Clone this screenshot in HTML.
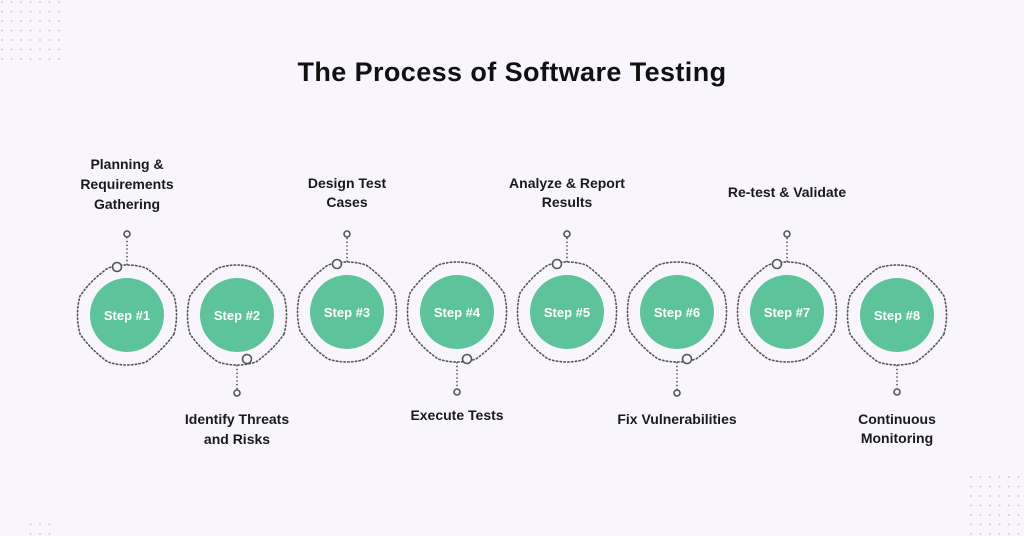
<!DOCTYPE html>
<html><head><meta charset="utf-8"><style>
body{margin:0;width:1024px;height:536px;background:#f8f6fc;overflow:hidden;font-family:"Liberation Sans",sans-serif}
svg{position:absolute;left:0;top:0}
</style></head><body>
<svg width="1024" height="536" viewBox="0 0 1024 536">
<defs>
<pattern id="dots" width="9.5" height="9.5" patternUnits="userSpaceOnUse"><circle cx="2" cy="2" r="1" fill="#cfcbd8"/></pattern>
<path id="ring" d="M47,19 Q36,35 19,47 Q0,53 -19,47 Q-36,35 -47,19 Q-52,0 -47,-19 Q-36,-35 -19,-47 Q0,-53 19,-47 Q36,-35 47,-19 Q52,0 47,19Z" fill="none" stroke="#555" stroke-width="1.6" stroke-dasharray="1.4 2.4" stroke-linecap="round"/>
</defs>
<rect x="0" y="0" width="60" height="60" fill="url(#dots)"/>
<rect x="965" y="470" width="59" height="66" fill="url(#dots)"/>
<rect x="28" y="516" width="30" height="20" fill="url(#dots)"/>
<text x="512" y="81" text-anchor="middle" font-size="27" font-weight="bold" letter-spacing="0.4" fill="#111">The Process of Software Testing</text>
<g font-size="14" font-weight="bold" fill="#1a1a1a" text-anchor="middle">
<text x="127" y="169">Planning &amp;</text><text x="127" y="189">Requirements</text><text x="127" y="209">Gathering</text>
<text x="347" y="188">Design Test</text><text x="347" y="207">Cases</text>
<text x="567" y="188">Analyze &amp; Report</text><text x="567" y="207">Results</text>
<text x="787" y="197">Re-test &amp; Validate</text>
<text x="237" y="424">Identify Threats</text><text x="237" y="444">and Risks</text>
<text x="457" y="420">Execute Tests</text>
<text x="677" y="424">Fix Vulnerabilities</text>
<text x="897" y="424">Continuous</text><text x="897" y="443">Monitoring</text>
</g>
<g stroke="#555" stroke-width="1.6" fill="none">
<g transform="translate(127,315)"><use href="#ring"/><line x1="0" y1="-50" x2="0" y2="-78" stroke-dasharray="1.4 2.4"/><circle cx="0" cy="-81" r="3" fill="#f8f6fc"/><circle cx="-10" cy="-48" r="4.5" fill="#f8f6fc"/></g>
<g transform="translate(347,312)"><use href="#ring"/><line x1="0" y1="-50" x2="0" y2="-75" stroke-dasharray="1.4 2.4"/><circle cx="0" cy="-78" r="3" fill="#f8f6fc"/><circle cx="-10" cy="-48" r="4.5" fill="#f8f6fc"/></g>
<g transform="translate(567,312)"><use href="#ring"/><line x1="0" y1="-50" x2="0" y2="-75" stroke-dasharray="1.4 2.4"/><circle cx="0" cy="-78" r="3" fill="#f8f6fc"/><circle cx="-10" cy="-48" r="4.5" fill="#f8f6fc"/></g>
<g transform="translate(787,312)"><use href="#ring"/><line x1="0" y1="-50" x2="0" y2="-75" stroke-dasharray="1.4 2.4"/><circle cx="0" cy="-78" r="3" fill="#f8f6fc"/><circle cx="-10" cy="-48" r="4.5" fill="#f8f6fc"/></g>
<g transform="translate(237,315)"><use href="#ring"/><line x1="0" y1="50" x2="0" y2="75" stroke-dasharray="1.4 2.4"/><circle cx="0" cy="78" r="3" fill="#f8f6fc"/><circle cx="10" cy="44" r="4.5" fill="#f8f6fc"/></g>
<g transform="translate(457,312)"><use href="#ring"/><line x1="0" y1="50" x2="0" y2="77" stroke-dasharray="1.4 2.4"/><circle cx="0" cy="80" r="3" fill="#f8f6fc"/><circle cx="10" cy="47" r="4.5" fill="#f8f6fc"/></g>
<g transform="translate(677,312)"><use href="#ring"/><line x1="0" y1="50" x2="0" y2="78" stroke-dasharray="1.4 2.4"/><circle cx="0" cy="81" r="3" fill="#f8f6fc"/><circle cx="10" cy="47" r="4.5" fill="#f8f6fc"/></g>
<g transform="translate(897,315)"><use href="#ring"/><line x1="0" y1="50" x2="0" y2="73" stroke-dasharray="1.4 2.4"/><circle cx="0" cy="77" r="3" fill="#f8f6fc"/></g>
</g>
<g fill="#5cc39b">
<circle cx="127" cy="315" r="37"/><circle cx="237" cy="315" r="37"/><circle cx="347" cy="312" r="37"/><circle cx="457" cy="312" r="37"/>
<circle cx="567" cy="312" r="37"/><circle cx="677" cy="312" r="37"/><circle cx="787" cy="312" r="37"/><circle cx="897" cy="315" r="37"/>
</g>
<g fill="#fff" font-size="13" font-weight="bold" text-anchor="middle">
<text x="127" y="320">Step #1</text><text x="237" y="320">Step #2</text><text x="347" y="317">Step #3</text><text x="457" y="317">Step #4</text>
<text x="567" y="317">Step #5</text><text x="677" y="317">Step #6</text><text x="787" y="317">Step #7</text><text x="897" y="320">Step #8</text>
</g>
</svg>
</body></html>
